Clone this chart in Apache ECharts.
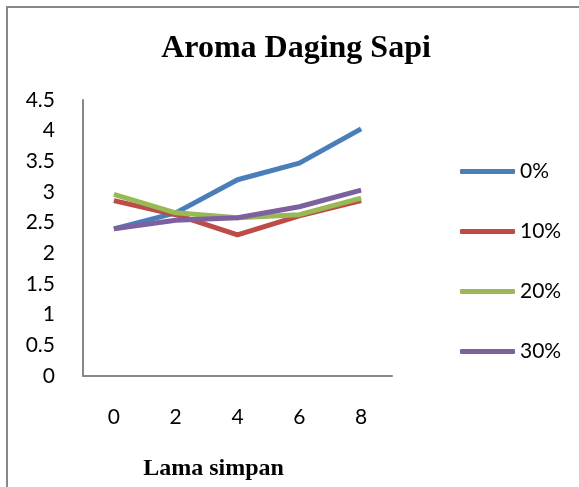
<!DOCTYPE html>
<html>
<head>
<meta charset="utf-8">
<script src="https://cdn.jsdelivr.net/npm/echarts@6/dist/echarts.min.js"></script>
<style>
html,body{margin:0;padding:0;background:#fff;}
#chart{width:579px;height:487px;}
</style>
</head>
<body>
<div id="chart"></div>
<script>
const categories = ['0', '2', '4', '6', '8'];
const seriesNames = ['0%', '10%', '20%', '30%'];
const s0 = [2.40, 2.66, 3.20, 3.47, 4.03];
const s10 = [2.86, 2.63, 2.30, 2.61, 2.86];
const s20 = [2.96, 2.66, 2.58, 2.63, 2.90];
const s30 = [2.40, 2.54, 2.58, 2.76, 3.03];
const yTicks = ['0', '0.5', '1', '1.5', '2', '2.5', '3', '3.5', '4', '4.5'];
const colors = ['#4A7EBB', '#BE4B48', '#98B954', '#7D60A0'];

const chart = echarts.init(document.getElementById('chart'));
const data = [s0, s10, s20, s30];
chart.setOption({
  animation: false,
  backgroundColor: '#fff',
  color: colors,
  title: {
    text: 'Aroma Daging Sapi',
    left: 291, top: 28, textAlign: 'center',
    textStyle: { fontFamily: 'Liberation Serif', fontWeight: 'bold', fontSize: 32, color: '#000' }
  },
  graphic: [{
    type: 'rect', shape: { x: 7, y: 7, width: 700, height: 600 },
    style: { fill: 'none', stroke: '#878787', lineWidth: 2 }, silent: true
  }],
  legend: {
    orient: 'vertical', left: 460, top: 161, padding: 0,
    itemWidth: 55, itemHeight: 5, itemGap: 39, icon: 'roundRect',
    textStyle: { fontFamily: 'Lato', fontSize: 21, color: '#000', lineHeight: 20 },
    data: seriesNames
  },
  grid: { left: 83, right: 187, top: 100, bottom: 111, outerBoundsMode: 'none', containLabel: false },
  xAxis: {
    type: 'category', data: categories, boundaryGap: true,
    name: 'Lama simpan', nameLocation: 'middle', nameGap: 81,
    nameTextStyle: { fontFamily: 'Liberation Serif', fontWeight: 'bold', fontSize: 24, color: '#000', padding: [0, 48, 0, 0] },
    axisLine: { lineStyle: { color: '#878787', width: 2 } },
    axisTick: { show: false },
    axisLabel: { fontFamily: 'Lato', fontSize: 21, color: '#000', margin: 31 }
  },
  yAxis: {
    type: 'value', min: 0, max: 4.5, interval: 0.5,
    axisLine: { show: true, lineStyle: { color: '#878787', width: 2 } },
    axisTick: { show: false },
    splitLine: { show: false },
    axisLabel: {
      fontFamily: 'Lato', fontSize: 21, color: '#000', margin: 28,
      formatter: v => yTicks[Math.round(v * 2)]
    }
  },
  series: data.map((d, i) => ({
    name: seriesNames[i], type: 'line', data: d,
    symbol: 'none', lineStyle: { width: 5, color: colors[i] },
    itemStyle: { color: colors[i] }
  }))
});
</script>
</body>
</html>
